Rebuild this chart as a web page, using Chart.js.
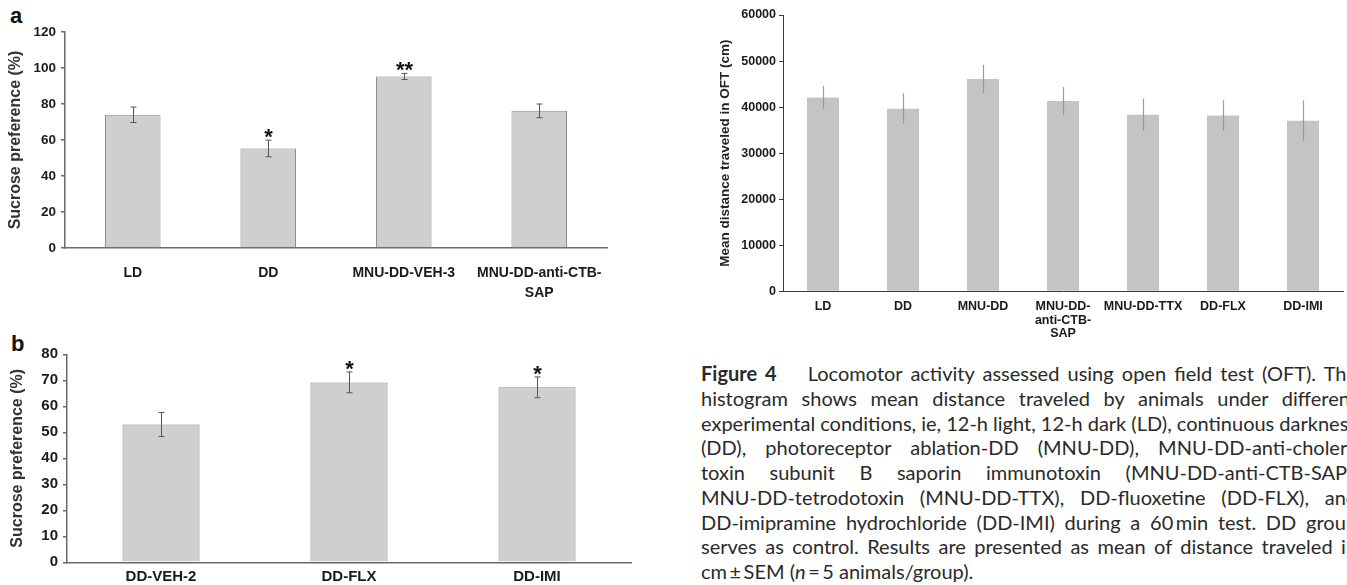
<!DOCTYPE html>
<html>
<head>
<meta charset="utf-8">
<script src="https://cdn.jsdelivr.net/npm/chart.js@4.4.1/dist/chart.umd.min.js"></script>
<style>
  html, body { margin: 0; padding: 0; background: #fff; }
  body { width: 1347px; height: 585px; position: relative; overflow: hidden; }
  canvas { position: absolute; }
  .panel { position: absolute; font: bold 22px "Liberation Sans", Arial, sans-serif; color: #111; line-height: 1; }
  #caption { position: absolute; left: 701px; top: 361px; width: 700px;
             font: 20px Lato, "Open Sans", sans-serif; line-height: 24.75px; color: #2a2a2a; }
  #caption .ln span { white-space: pre; }
  #caption b { font-weight: bold; margin-right: 8px; }
</style>
</head>
<body>
<div class="panel" style="left:10px; top:5px;">a</div>
<div class="panel" style="left:11px; top:333px;">b</div>

<canvas id="chartA" width="625" height="300" style="left:0; top:0;"></canvas>
<canvas id="chartB" width="645" height="285" style="left:0; top:300px;"></canvas>
<canvas id="chartOFT" width="647" height="345" style="left:700px; top:0;"></canvas>

<div id="caption">
  <div class="ln j"><span><b>Figure 4</b>&emsp; Locomotor activity assessed using open field test (OFT). The</span></div>
  <div class="ln j"><span>histogram shows mean distance traveled by animals under different</span></div>
  <div class="ln j"><span>experimental conditions, ie, 12-h light, 12-h dark (LD), continuous darkness</span></div>
  <div class="ln j"><span>(DD), photoreceptor ablation-DD (MNU-DD), MNU-DD-anti-cholera</span></div>
  <div class="ln j"><span>toxin subunit B saporin immunotoxin (MNU-DD-anti-CTB-SAP),</span></div>
  <div class="ln j"><span>MNU-DD-tetrodotoxin (MNU-DD-TTX), DD-fluoxetine (DD-FLX), and</span></div>
  <div class="ln j"><span>DD-imipramine hydrochloride (DD-IMI) during a 60&thinsp;min test. DD group</span></div>
  <div class="ln j"><span>serves as control. Results are presented as mean of distance traveled in</span></div>
  <div class="ln"><span>cm&thinsp;±&thinsp;SEM (<i>n</i>&thinsp;=&thinsp;5 animals/group).</span></div>
</div>

<script>
// Panel a - sucrose preference
const labelsA = ['LD', 'DD', 'MNU-DD-VEH-3', ['MNU-DD-anti-CTB-', 'SAP']];
const meanA = [74, 55.3, 95.3, 76.2];
const semA = [4.3, 4.6, 1.7, 3.8];
const starsA = ['', '*', '**', ''];

// Panel b - sucrose preference, antidepressants
const labelsB = ['DD-VEH-2', 'DD-FLX', 'DD-IMI'];
const meanB = [53, 69.2, 67.3];
const semB = [4.6, 4, 4];
const starsB = ['', '*', '*'];

// Open field test distance
const labelsOFT = ['LD', 'DD', 'MNU-DD', ['MNU-DD-', 'anti-CTB-', 'SAP'], 'MNU-DD-TTX', 'DD-FLX', 'DD-IMI'];
const meanOFT = [42100, 39650, 46100, 41300, 38350, 38200, 37050];
const semOFT = [2500, 3300, 3100, 3050, 3450, 3300, 4400];

const FONT = '"Liberation Sans", Arial, sans-serif';

const errorBars = {
    id: 'errorBars',
    afterDatasetsDraw(chart, args, opts) {
        const ctx = chart.ctx;
        const y = chart.scales.y;
        const values = chart.data.datasets[0].data;
        ctx.save();
        ctx.strokeStyle = opts.color;
        ctx.lineWidth = opts.width;
        chart.getDatasetMeta(0).data.forEach((bar, i) => {
            const x = Math.round(bar.x) + 0.5;
            const top = y.getPixelForValue(values[i] + opts.sem[i]);
            const bot = y.getPixelForValue(values[i] - opts.sem[i]);
            ctx.beginPath();
            ctx.moveTo(x, top);
            ctx.lineTo(x, bot);
            if (opts.cap) {
                ctx.moveTo(x - opts.cap, top);
                ctx.lineTo(x + opts.cap, top);
                ctx.moveTo(x - opts.cap, bot);
                ctx.lineTo(x + opts.cap, bot);
            }
            ctx.stroke();
            if (opts.stars && opts.stars[i]) {
                ctx.fillStyle = '#111';
                ctx.font = 'bold 22px ' + FONT;
                ctx.textAlign = 'center';
                ctx.textBaseline = 'alphabetic';
                ctx.fillText(opts.stars[i], x, top + 4);
            }
        });
        ctx.restore();
    }
};

function sucroseChart(id, labels, data, sem, stars, cfg) {
    new Chart(document.getElementById(id), {
        type: 'bar',
        data: {
            labels: labels,
            datasets: [{
                data: data,
                backgroundColor: '#cfcfcf',
                borderColor: '#8a8a8a',
                borderWidth: 1,
                categoryPercentage: 1,
                barPercentage: 0.41
            }]
        },
        plugins: [errorBars],
        options: {
            responsive: false,
            animation: false,
            layout: { padding: cfg.padding },
            plugins: {
                legend: { display: false },
                tooltip: { enabled: false },
                errorBars: { sem: sem, stars: stars, color: '#555', width: 1, cap: 3 }
            },
            scales: {
                x: {
                    grid: { display: false, drawTicks: false },
                    border: { color: '#6a6a6a', width: 1.5 },
                    ticks: {
                        color: '#1a1a1a',
                        font: { family: FONT, size: cfg.xFont, weight: 'bold', lineHeight: cfg.xLine },
                        padding: cfg.xPad,
                        maxRotation: 0,
                        autoSkip: false
                    },
                    afterFit: s => { s.height = cfg.xHeight; }
                },
                y: {
                    min: 0,
                    max: cfg.max,
                    grid: { drawOnChartArea: false, drawTicks: true, tickLength: 4, color: '#6a6a6a', lineWidth: 1.5 },
                    border: { color: '#6a6a6a', width: 1.5 },
                    ticks: {
                        stepSize: cfg.step,
                        color: '#1a1a1a',
                        font: { family: FONT, size: cfg.yFont, weight: 'bold' },
                        padding: 5
                    },
                    title: {
                        display: true,
                        text: 'Sucrose preference (%)',
                        color: '#333',
                        font: { family: FONT, size: 16, weight: 'bold' },
                        padding: { top: cfg.titlePad, bottom: 0 }
                    },
                    afterFit: s => { s.width = cfg.yWidth; }
                }
            }
        }
    });
}

function loadOFTChart() {
    new Chart(document.getElementById('chartOFT'), {
        type: 'bar',
        data: {
            labels: labelsOFT,
            datasets: [{
                data: meanOFT,
                backgroundColor: '#c4c4c4',
                borderWidth: 0,
                categoryPercentage: 1,
                barPercentage: 0.4
            }]
        },
        plugins: [errorBars],
        options: {
            responsive: false,
            animation: false,
            layout: { padding: { top: 15, right: 4, left: 0, bottom: 0 } },
            plugins: {
                legend: { display: false },
                tooltip: { enabled: false },
                errorBars: { sem: semOFT, color: '#9a9a9a', width: 1.2, cap: 0 }
            },
            scales: {
                x: {
                    grid: { display: false, drawTicks: false },
                    border: { color: '#3a3a3a', width: 1 },
                    ticks: {
                        color: '#1a1a1a',
                        font: { family: FONT, size: 12.5, weight: 'bold', lineHeight: 1.08 },
                        padding: 8.6,
                        maxRotation: 0,
                        autoSkip: false
                    },
                    afterFit: s => { s.height = 53.7; }
                },
                y: {
                    min: 0,
                    max: 60000,
                    grid: { drawOnChartArea: false, drawTicks: true, tickLength: 4, color: '#3a3a3a' },
                    border: { color: '#3a3a3a', width: 1 },
                    ticks: {
                        stepSize: 10000,
                        color: '#1a1a1a',
                        font: { family: FONT, size: 12.5, weight: 'bold' },
                        padding: 3,
                        callback: v => String(v)
                    },
                    title: {
                        display: true,
                        text: 'Mean distance traveled in OFT (cm)',
                        color: '#222',
                        font: { family: FONT, size: 13.5, weight: 'bold' },
                        padding: { top: 17, bottom: 0 }
                    },
                    afterFit: s => { s.width = 83; }
                }
            }
        }
    });
}

// justify caption lines to a fixed width like the printed page
function justifyCaption() {
    const width = 656;
    document.querySelectorAll('#caption .ln.j span').forEach(sp => {
        sp.style.wordSpacing = '0px';
        const gaps = (sp.textContent.match(/ /g) || []).length;
        if (!gaps) return;
        const extra = (width - sp.getBoundingClientRect().width) / gaps;
        sp.style.wordSpacing = extra + 'px';
    });
}

sucroseChart('chartA', labelsA, meanA, semA, starsA, {
    padding: { top: 32, right: 18, left: 0, bottom: 0 },
    max: 120, step: 20, yFont: 13.5, xFont: 14, xLine: 1.43, xPad: 15,
    xHeight: 52, yWidth: 65, titlePad: 6
});
sucroseChart('chartB', labelsB, meanB, semB, starsB, {
    padding: { top: 54.3, right: 14, left: 0, bottom: 0 },
    max: 80, step: 10, yFont: 15, xFont: 15, xLine: 1.2, xPad: 6,
    xHeight: 22.7, yWidth: 67, titlePad: 8
});
loadOFTChart();
justifyCaption();
if (document.fonts) document.fonts.ready.then(justifyCaption);
</script>
</body>
</html>
